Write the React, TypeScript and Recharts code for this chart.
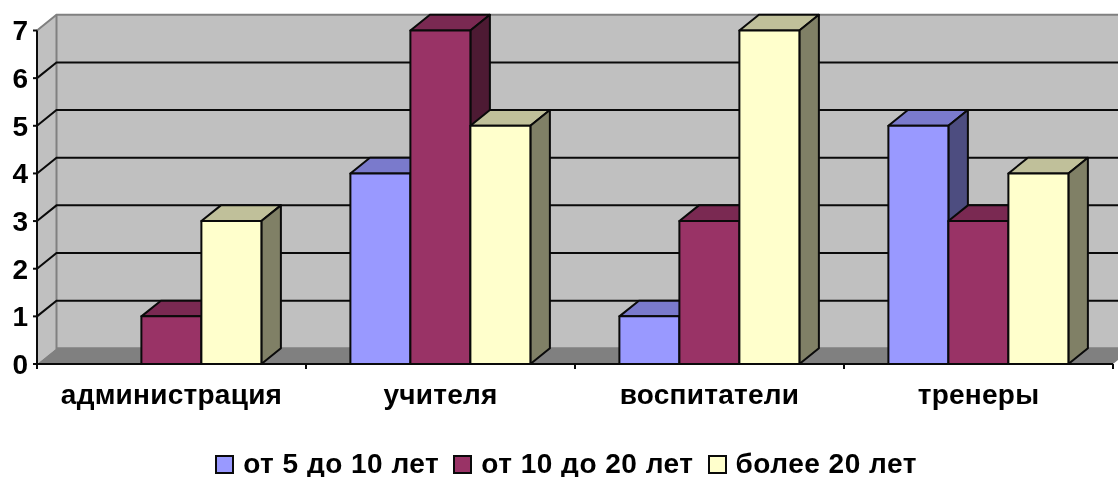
import React from "react";
import { BarChart, Bar, XAxis, YAxis, ReferenceArea, Legend } from "recharts";

const categories = ["администрация", "учителя", "воспитатели", "тренеры"];
const series5to10 = [0, 4, 1, 5];
const series10to20 = [1, 7, 3, 3];
const seriesOver20 = [3, 5, 7, 4];
const yTicks = [0, 1, 2, 3, 4, 5, 6, 7];
const names = ["от 5 до 10 лет", "от 10 до 20 лет", "более 20 лет"];
const fronts = ["#9999FF", "#993366", "#FFFFCC"];
const tops = ["#7A7ACC", "#7A2952", "#C0C09A"];
const sides = ["#4D4D80", "#4D1A33", "#808066"];

const data = categories.map((name, i) => ({
  name,
  a: series5to10[i],
  b: series10to20[i],
  c: seriesOver20[i],
}));

const DX = 19.5;
const DY = -15.7;
const STROKE = "#0a0a0a";
const FONT = "'Liberation Sans', Arial, sans-serif";

const makeBar = (idx: number) => (props: any) => {
  const { x, y, width, height } = props;
  if (!height || height <= 0) return <g />;
  const w = width;
  return (
    <g stroke={STROKE} strokeWidth={2} strokeLinejoin="round">
      <path fill={tops[idx]} d={`M${x},${y} L${x + DX},${y + DY} L${x + w + DX},${y + DY} L${x + w},${y} Z`} />
      <path fill={sides[idx]} d={`M${x + w},${y} L${x + w + DX},${y + DY} L${x + w + DX},${y + height + DY} L${x + w},${y + height} Z`} />
      <rect x={x} y={y} width={w} height={height} fill={fronts[idx]} />
    </g>
  );
};

const Wall = (props: any) => {
  const { x, y, width, height } = props;
  const r = x + width;
  const b = y + height;
  const step = width / categories.length;
  const maxTick = yTicks[yTicks.length - 1];
  return (
    <g>
      <path fill="#C0C0C0" stroke="none" d={`M${x},${y} L${x + DX},${y + DY} L${r + DX},${y + DY} L${r + DX},${b + DY} L${x + DX},${b + DY} L${x},${b} Z`} />
      <path fill="#808080" stroke="none" d={`M${x},${b} L${x + DX},${b + DY} L${r + DX},${b + DY} L${r},${b} Z`} />
      <path fill="none" stroke="#808080" strokeWidth={2} d={`M${x},${y} L${x + DX},${y + DY} L${r + DX},${y + DY}`} />
      <path fill="none" stroke="#808080" strokeWidth={2} d={`M${x + DX},${y + DY} L${x + DX},${b + DY} L${r + DX},${b + DY}`} />
      {yTicks.slice(1, -1).map((t) => {
        const gy = b - (height * t) / maxTick;
        return (
          <path key={t} fill="none" stroke={STROKE} strokeWidth={2} d={`M${x},${gy} L${x + DX},${gy + DY} L${r + DX},${gy + DY}`} />
        );
      })}
      {categories.map((_, i) => (
        <line key={i} x1={x + step * (i + 1)} x2={x + step * (i + 1)} y1={b} y2={b + 5} stroke={STROKE} strokeWidth={2} />
      ))}
      <line x1={x} x2={x} y1={b} y2={b + 5} stroke={STROKE} strokeWidth={2} />
    </g>
  );
};

const LegendContent = () => (
  <div
    style={{
      display: "flex",
      justifyContent: "center",
      alignItems: "center",
      fontFamily: FONT,
      fontWeight: 700,
      fontSize: 28,
      letterSpacing: 0.5,
      color: "#000",
      lineHeight: "28px",
    }}
  >
    {names.map((n, i) => (
      <span key={n} style={{ display: "inline-flex", alignItems: "center", marginLeft: i ? 14 : 0 }}>
        <span
          style={{
            display: "inline-block",
            width: 15,
            height: 15,
            background: fronts[i],
            border: `2px solid ${STROKE}`,
            marginRight: 9,
          }}
        />
        {n}
      </span>
    ))}
  </div>
);

export default function App() {
  return (
    <div style={{ position: "fixed", left: 0, top: 0, width: 1118, height: 477 }}>
      <BarChart
        width={1118}
        height={477}
        data={data}
        margin={{ top: 30.5, right: 5, bottom: 0, left: 0 }}
        barCategoryGap="16.5%"
        barGap={0}
      >
        <ReferenceArea y1={0} y2={7} ifOverflow="visible" shape={Wall} />
        <XAxis
          dataKey="name"
          height={85}
          tickLine={false}
          axisLine={{ stroke: STROKE, strokeWidth: 2 }}
          interval={0}
          tickMargin={14}
          tick={{ fill: "#000", fontFamily: FONT, fontWeight: 700, fontSize: 28, letterSpacing: 0.25 }}
        />
        <YAxis
          width={37}
          domain={[0, 7]}
          ticks={yTicks}
          interval={0}
          tickSize={4}
          tickMargin={5}
          axisLine={{ stroke: STROKE, strokeWidth: 2 }}
          tickLine={{ stroke: STROKE, strokeWidth: 2 }}
          tick={{ fill: "#000", fontFamily: FONT, fontWeight: 700, fontSize: 28 }}
        />
        <Bar dataKey="a" name={names[0]} fill={fronts[0]} shape={makeBar(0)} isAnimationActive={false} />
        <Bar dataKey="b" name={names[1]} fill={fronts[1]} shape={makeBar(1)} isAnimationActive={false} />
        <Bar dataKey="c" name={names[2]} fill={fronts[2]} shape={makeBar(2)} isAnimationActive={false} />
        <Legend content={LegendContent} wrapperStyle={{ left: 0, width: 1132, top: 450, bottom: "auto" }} />
      </BarChart>
    </div>
  );
}
